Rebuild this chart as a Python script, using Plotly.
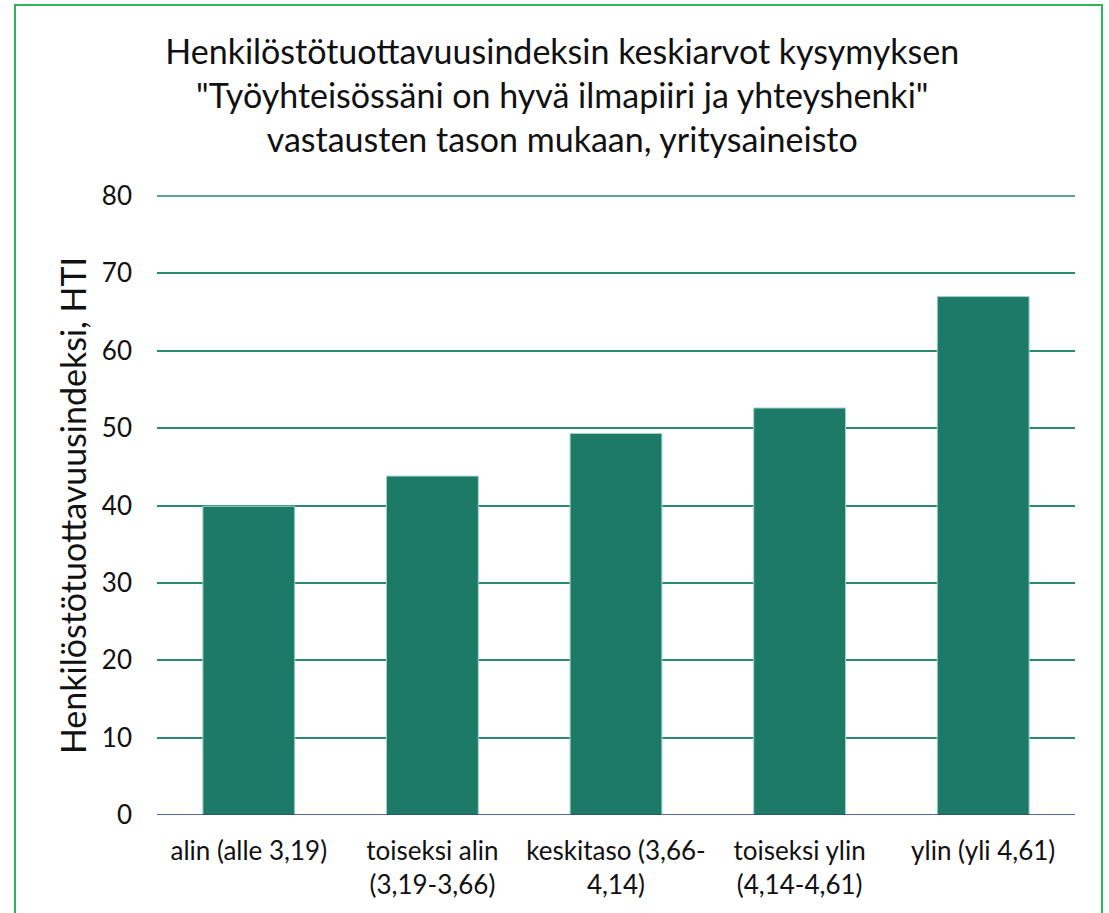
import plotly.graph_objects as go

categories = ["alin (alle 3,19)", "toiseksi alin<br>(3,19-3,66)", "keskitaso (3,66-<br>4,14)",
              "toiseksi ylin<br>(4,14-4,61)", "ylin (yli 4,61)"]
values = [39.9, 43.8, 49.3, 52.6, 67.0]
y_ticks = [0, 10, 20, 30, 40, 50, 60, 70, 80]

title_text = ("Henkilöstötuottavuusindeksin keskiarvot kysymyksen<br>"
              "\"Työyhteisössäni on hyvä ilmapiiri ja yhteyshenki\"<br>"
              "vastausten tason mukaan, yritysaineisto")
y_title = "Henkilöstötuottavuusindeksi, HTI"

FONT = "Lato"
W, H = 1109, 913
L, R, T, B = 157, 34, 196, 98
pw, ph = W - L - R, H - T - B

fig = go.Figure()
fig.add_trace(go.Bar(
    x=categories, y=values, width=0.5,
    marker=dict(color="#1E7A68", line=dict(color="#9FD3C4", width=1)),
))

def px_x(p):
    return (p - L) / pw

def px_y(p):
    return (H - B - p) / ph

fig.update_layout(
    width=W, height=H,
    margin=dict(l=L, r=R, t=T, b=B),
    plot_bgcolor="white", paper_bgcolor="white",
    showlegend=False,
    title=dict(text=title_text, x=0.507, xanchor="center", y=1 - 64 / H, yanchor="top",
               font=dict(family=FONT, size=34, color="#111111")),
    font=dict(family=FONT, color="#111111"),
    xaxis=dict(tickfont=dict(size=26, family=FONT, color="#111111"), showgrid=False,
               showline=False, ticks="", ticklabelstandoff=18),
    yaxis=dict(range=[y_ticks[0], y_ticks[-1]], tickvals=y_ticks, showgrid=True, gridcolor="#2A8A70",
               gridwidth=1.5, zeroline=False, showline=False, ticks="",
               ticklabelstandoff=24,
               tickfont=dict(size=26, family=FONT, color="#111111"),
               title=dict(text=y_title, font=dict(size=34, family=FONT, color="#111111"), standoff=4)),
    shapes=[
        # top gridline (at the top of the axis range) drawn unclipped
        dict(type="line", xref="paper", yref="paper", x0=0, x1=1, y0=1, y1=1,
             line=dict(color="#2A8A70", width=1.5)),
        dict(type="line", xref="paper", yref="y", x0=0, x1=1, y0=0, y1=0,
             line=dict(color="#1F3864", width=1.5)),
        dict(type="rect", xref="paper", yref="paper",
             x0=px_x(15), x1=px_x(1102), y0=px_y(930), y1=px_y(5),
             line=dict(color="#2DB35C", width=2), fillcolor="rgba(0,0,0,0)", layer="below"),
    ],
)

fig.write_html("out.html", config={"displayModeBar": False},
               post_script="document.body.style.margin='0';document.body.style.overflow='hidden';")
